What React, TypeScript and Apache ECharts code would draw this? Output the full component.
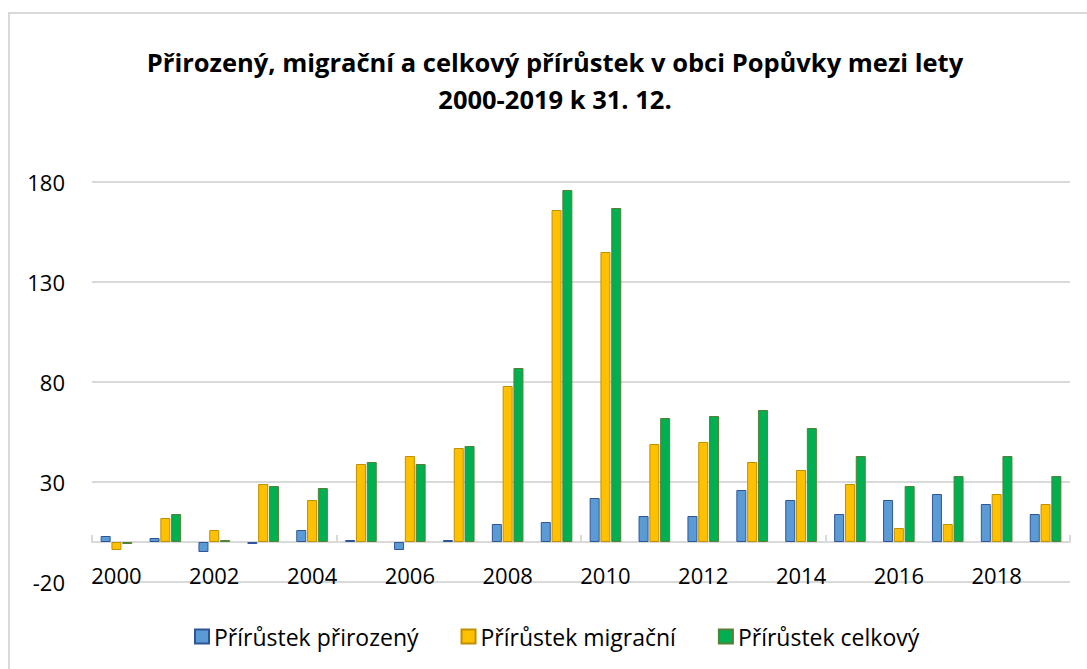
import React, { useEffect, useRef } from "react";
import * as echarts from "echarts";

const years = [
  "2000", "2001", "2002", "2003", "2004", "2005", "2006", "2007", "2008", "2009",
  "2010", "2011", "2012", "2013", "2014", "2015", "2016", "2017", "2018", "2019",
];
const natural = [3, 2, -5, -1, 6, 1, -4, 1, 9, 10, 22, 13, 13, 26, 21, 14, 21, 24, 19, 14];
const migration = [-4, 12, 6, 29, 21, 39, 43, 47, 78, 166, 145, 49, 50, 40, 36, 29, 7, 9, 24, 19];
const total = [-1, 14, 1, 28, 27, 40, 39, 48, 87, 176, 167, 62, 63, 66, 57, 43, 28, 33, 43, 33];
const seriesNames = ["Přírůstek přirozený", "Přírůstek migrační", "Přírůstek celkový"];
const titleText = "Přirozený, migrační a celkový přírůstek v obci Popůvky mezi lety\n2000-2019 k 31. 12.";

const FONT = "'Open Sans', 'DejaVu Sans', sans-serif";

export default function App() {
  const ref = useRef<HTMLDivElement>(null);
  useEffect(() => {
    if (!ref.current) return;
    const chart = echarts.init(ref.current, undefined, { renderer: "svg" });
    const mk = (name: string, data: number[], color: string, border: string) => ({
      name,
      type: "bar",
      data,
      xAxisIndex: 0,
      yAxisIndex: 0,
      barWidth: 10,
      barGap: "8%",
      itemStyle: { color, borderColor: border, borderWidth: 1 },
    });
    chart.setOption({
      animation: false,
      backgroundColor: "#ffffff",
      title: {
        text: titleText,
        left: 550,
        top: 38,
        textAlign: "center",
        textStyle: {
          fontFamily: FONT,
          fontWeight: "bold",
          fontSize: 25.5,
          lineHeight: 37,
          color: "#000000",
        },
      },
      graphic: [
        {
          type: "rect",
          shape: { x: 9, y: 13, width: 1200, height: 800 },
          style: { fill: "none", stroke: "#D9D9D9", lineWidth: 2 },
          silent: true,
        },
      ],
      legend: {
        data: seriesNames,
        top: 620,
        left: 189,
        icon: "rect",
        itemWidth: 14,
        itemHeight: 14,
        itemGap: 42,
        textStyle: { fontFamily: FONT, fontSize: 23, color: "#000000" },
      },
      grid: { left: 92, right: 17, top: 182, bottom: 87, containLabel: false },
      xAxis: [
        {
          type: "category",
          data: years,
          position: "bottom",
          axisLine: { onZero: true, lineStyle: { color: "#D9D9D9", width: 2 } },
          axisTick: { show: true, inside: true, length: 7, interval: 4, lineStyle: { color: "#D9D9D9", width: 2 } },
          axisLabel: { show: false },
          splitLine: { show: false },
        },
        {
          type: "category",
          data: years,
          position: "bottom",
          axisLine: { show: false, onZero: false },
          axisTick: { show: false },
          axisLabel: {
            show: true,
            inside: true,
            interval: 1,
            margin: -4,
            fontFamily: FONT,
            fontSize: 22,
            color: "#000000",
          },
          splitLine: { show: false },
        },
      ],
      yAxis: {
        type: "value",
        min: -20,
        max: 180,
        interval: 50,
        axisLine: { show: false },
        axisTick: { show: false },
        axisLabel: { margin: 27, fontFamily: FONT, fontSize: 22, color: "#000000" },
        splitLine: { lineStyle: { color: "#D9D9D9", width: 2 } },
      },
      series: [
        mk(seriesNames[0], natural, "#5B9BD5", "#2F5597"),
        mk(seriesNames[1], migration, "#FFC000", "#BF9000"),
        mk(seriesNames[2], total, "#00B050", "#538135"),
      ],
    });
    return () => chart.dispose();
  }, []);
  return (
    <div
      ref={ref}
      style={{ position: "fixed", left: 0, top: 0, width: 1087, height: 669 }}
    />
  );
}
